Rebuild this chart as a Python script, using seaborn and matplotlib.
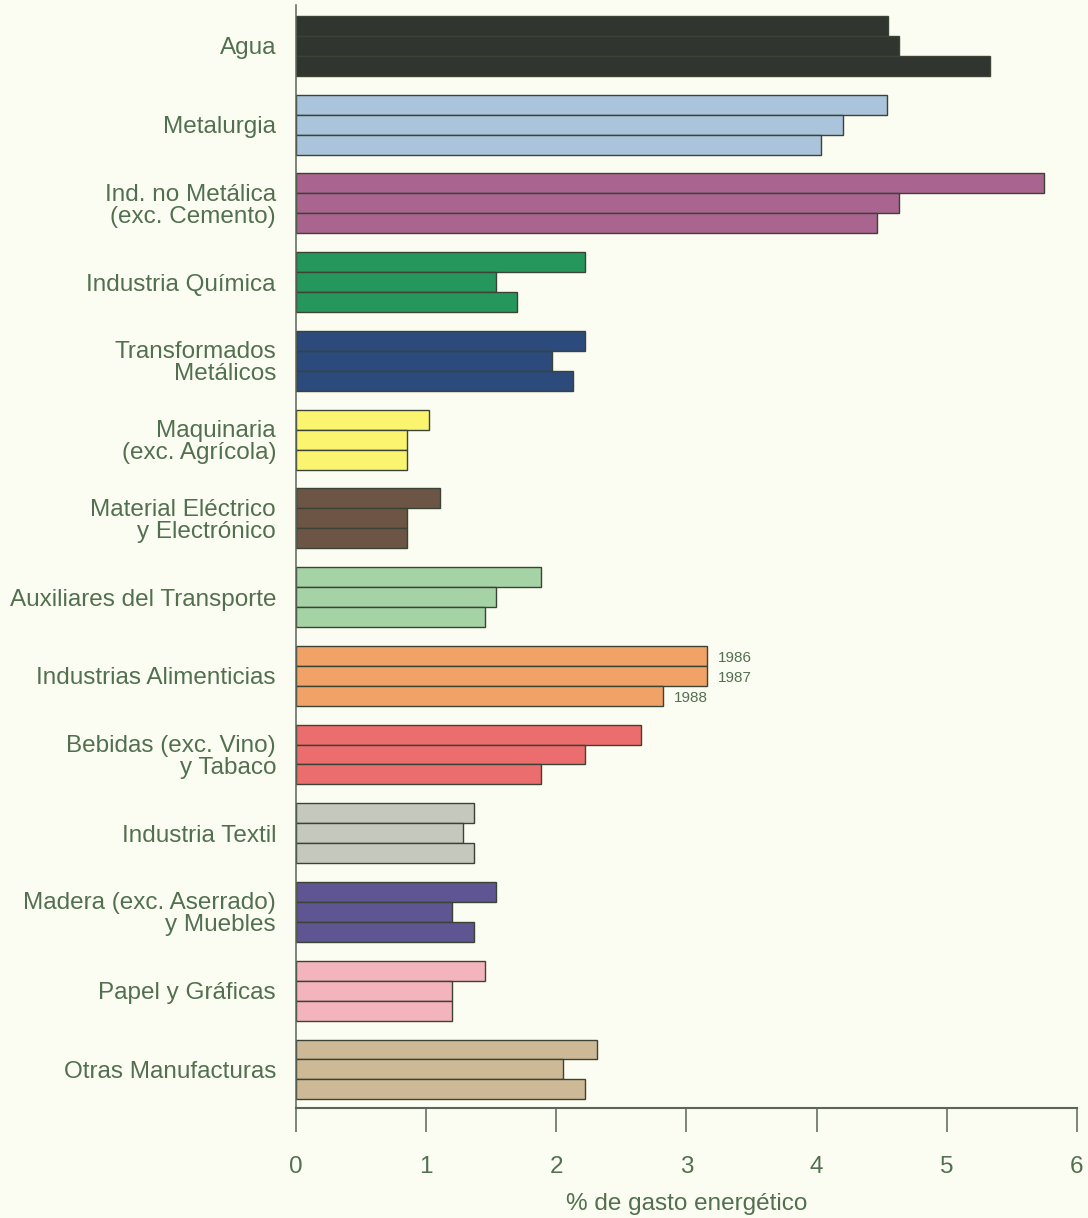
import matplotlib
matplotlib.use("Agg")
import matplotlib.pyplot as plt
import seaborn as sns
import pandas as pd

categories = [
    "Agua",
    "Metalurgia",
    "Ind. no Metálica\n(exc. Cemento)",
    "Industria Química",
    "Transformados\nMetálicos",
    "Maquinaria\n(exc. Agrícola)",
    "Material Eléctrico\ny Electrónico",
    "Auxiliares del Transporte",
    "Industrias Alimenticias",
    "Bebidas (exc. Vino)\ny Tabaco",
    "Industria Textil",
    "Madera (exc. Aserrado)\ny Muebles",
    "Papel y Gráficas",
    "Otras Manufacturas",
]
years = ["1986", "1987", "1988"]
v1986 = [4.55, 4.54, 5.75, 2.22, 2.22, 1.02, 1.11, 1.88, 3.16, 2.65, 1.37, 1.54, 1.45, 2.31]
v1987 = [4.63, 4.20, 4.63, 1.54, 1.97, 0.85, 0.85, 1.54, 3.16, 2.22, 1.28, 1.20, 1.20, 2.05]
v1988 = [5.33, 4.03, 4.46, 1.70, 2.13, 0.85, 0.85, 1.45, 2.82, 1.88, 1.37, 1.37, 1.20, 2.22]
colors = ["#30352f", "#aac4dc", "#a9648f", "#25965c", "#2c4a7c", "#fbf46e", "#6c5544",
          "#a5d3a6", "#f1a266", "#ec6d6e", "#c5c9bd", "#5e5592", "#f3b4be", "#cdb996"]
xticks = [0, 1, 2, 3, 4, 5, 6]
xlabel = "% de gasto energético"
annot_category = "Industrias Alimenticias"

BG = "#fcfdf2"
TXT = "#527050"
EDGE = "#3b4434"
AX = "#5b6558"

sns.set_style("ticks")
plt.rcParams["font.family"] = ["Liberation Sans", "DejaVu Sans"]

rows = []
for yr, vals in zip(years, [v1986, v1987, v1988]):
    for c, v in zip(categories, vals):
        rows.append({"category": c, "year": yr, "value": v})
df = pd.DataFrame(rows)

W, H = 1088, 1218
fig = plt.figure(figsize=(W / 100, H / 100), dpi=100, facecolor=BG)
ax = fig.add_axes([296 / W, 1 - 1108 / H, (1077 - 296) / W, (1108 - 5) / H])
ax.set_facecolor(BG)

sns.barplot(data=df, x="value", y="category", hue="year", order=categories,
            hue_order=years, orient="h", width=0.76, dodge=True, errorbar=None,
            palette=["#888888"] * 3, edgecolor=EDGE, linewidth=1.0, legend=False, ax=ax)

for cont in ax.containers:
    for i, bar in enumerate(cont.patches):
        bar.set_facecolor(colors[i])
        bar.set_edgecolor(EDGE)

ai = categories.index(annot_category)
for yr, cont in zip(years, ax.containers):
    bar = cont.patches[ai]
    x = bar.get_x() + bar.get_width()
    yc = bar.get_y() + bar.get_height() / 2
    ax.text(x + 0.08, yc + 0.03, yr, fontsize=11, color=TXT, va="center", ha="left")

ax.set_xlim(0, 6)
ax.set_ylim(13.49, -0.52)
ax.set_xticks(xticks)
ax.set_xticklabels([str(t) for t in xticks])
ax.set_xlabel(xlabel, fontsize=17.5, color=TXT, labelpad=11)
ax.set_ylabel("")

for s in ["top", "right"]:
    ax.spines[s].set_visible(False)
ax.spines["left"].set_color(AX)
ax.spines["left"].set_linewidth(1.1)
ax.spines["bottom"].set_color(AX)
ax.spines["bottom"].set_linewidth(1.5)

ax.tick_params(axis="x", length=17.3, width=1.1, color=AX, pad=17,
               labelsize=17.5, labelcolor=TXT)
ax.tick_params(axis="y", length=0, pad=14.4, labelsize=17.5, labelcolor=TXT)
for lab in ax.get_yticklabels():
    lab.set_linespacing(1.0)

fig.savefig("out.png", dpi=100, facecolor=BG)
